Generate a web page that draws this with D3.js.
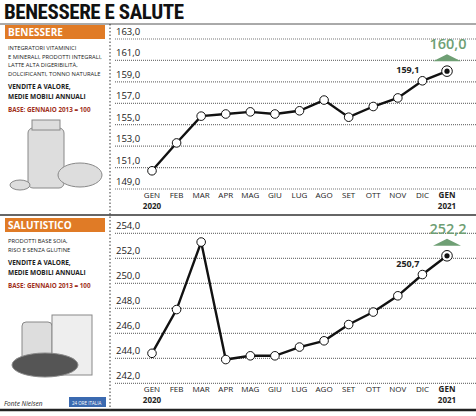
<!DOCTYPE html>
<html><head><meta charset="utf-8">
<script src="https://cdn.jsdelivr.net/npm/d3@7"></script>
<style>body{margin:0;background:#fff}svg{display:block}</style></head>
<body><svg id="c" width="476" height="416"></svg>
<script>
const months = ["GEN","FEB","MAR","APR","MAG","GIU","LUG","AGO","SET","OTT","NOV","DIC","GEN"];
const years = ["2020","","","","","","","","","","","","2021"];
const benessere = [150.7,153.3,155.8,156.0,156.2,156.0,156.3,157.3,155.7,156.7,157.5,159.1,160.0];
const salutistico = [244.4,247.9,253.3,243.9,244.2,244.2,244.9,245.4,246.7,247.7,249.0,250.7,252.2];
const ticksTop = [149,151,153,155,157,159,161,163];
const ticksBot = [242,244,246,248,250,252,254];
const fmt = v => d3.format(".1f")(v).replace(".", ",");

const svg = d3.select("#c");
const F = "'Open Sans', sans-serif";
svg.append("text").attr("x",4).attr("y",19).attr("font-family","'Roboto Condensed','Liberation Sans Narrow',Roboto,sans-serif")
  .attr("font-weight","bold").attr("font-size",21).attr("textLength",180).attr("fill","#111").text("BENESSERE E SALUTE");
svg.append("line").attr("x1",0).attr("x2",476).attr("y1",24).attr("y2",24).attr("stroke","#555").attr("stroke-width",1);
svg.append("line").attr("x1",0).attr("x2",476).attr("y1",215).attr("y2",215).attr("stroke","#333").attr("stroke-width",1.5);
svg.append("line").attr("x1",0).attr("x2",476).attr("y1",410).attr("y2",410).attr("stroke","#222").attr("stroke-width",2.5);
svg.append("line").attr("x1",110).attr("x2",110).attr("y1",24).attr("y2",410).attr("stroke","#333").attr("stroke-dasharray","1.5,2");

function side(y0, title, lines){
  svg.append("rect").attr("x",5).attr("y",y0).attr("width",100).attr("height",14).attr("fill","#e07b26");
  svg.append("text").attr("x",8).attr("y",y0+11).attr("font-family",F).attr("font-weight","bold").attr("font-size",10).attr("fill","#fff").text(title);
  let y=y0+25;
  lines.forEach(l=>{svg.append("text").attr("x",8).attr("y",y).attr("font-family",F).attr("font-size",5.8).attr("fill","#222").text(l);y+=8.5;});
  y+=5;
  ["VENDITE A VALORE,","MEDIE MOBILI ANNUALI"].forEach(l=>{svg.append("text").attr("x",8).attr("y",y).attr("font-family",F).attr("font-weight","bold").attr("font-size",6.5).attr("fill","#222").text(l);y+=10;});
  y+=3;
  svg.append("text").attr("x",8).attr("y",y).attr("font-family",F).attr("font-weight","bold").attr("font-size",6.3).attr("fill","#a03020").text("BASE: GENNAIO 2013 = 100");
}
side(25,"BENESSERE",["INTEGRATORI VITAMINICI","E MINERALI, PRODOTTI INTEGRALI,","LATTE ALTA DIGERIBILITÀ,","DOLCIFICANTI, TONNO NATURALE"]);
side(218,"SALUTISTICO",["PRODOTTI BASE SOIA,","RISO E SENZA GLUTINE"]);

const ill = svg.append("g").attr("fill","#ddd").attr("stroke","#888").attr("stroke-width",1);
ill.append("rect").attr("x",28).attr("y",128).attr("width",36).attr("height",60).attr("rx",5);
ill.append("rect").attr("x",32).attr("y",120).attr("width",28).attr("height",10);
ill.append("ellipse").attr("cx",80).attr("cy",175).attr("rx",22).attr("ry",12);
ill.append("ellipse").attr("cx",20).attr("cy",185).attr("rx",10).attr("ry",5);
ill.append("rect").attr("x",22).attr("y",322).attr("width",30).attr("height",40).attr("rx",4);
ill.append("rect").attr("x",52).attr("y",315).attr("width",40).attr("height",60).attr("fill","#eee");
ill.append("ellipse").attr("cx",45).attr("cy",365).attr("rx",33).attr("ry",12).attr("fill","#555");
svg.append("text").attr("x",4).attr("y",406).attr("font-family",F).attr("font-style","italic").attr("font-size",6.5).attr("fill","#222").text("Fonte Nielsen");
svg.append("rect").attr("x",69).attr("y",397).attr("width",37).attr("height",10).attr("fill","#3b6ab0");
svg.append("text").attr("x",72).attr("y",404.5).attr("font-family",F).attr("font-size",4.5).attr("fill","#fff").text("24 ORE ITALIA");

const x = d3.scalePoint().domain(d3.range(13)).range([152,447]);

function panel(data, ticks, yTop, yBot, labelY){
  const y = d3.scaleLinear().domain([ticks[0], ticks[ticks.length-1]]).range([yBot,yTop]);
  const g = svg.append("g");
  ticks.forEach(t=>{
    g.append("line").attr("x1",115).attr("x2",476).attr("y1",y(t)).attr("y2",y(t)).attr("stroke","#777").attr("stroke-dasharray","1,1").attr("stroke-width",1.2);
    g.append("text").attr("x",116).attr("y",y(t)-4).attr("font-family",F).attr("font-size",9.5).attr("fill","#222").text(fmt(t));
  });
  const line = d3.line().x((d,i)=>x(i)).y(d=>y(d));
  g.append("path").attr("d",line(data)).attr("fill","none").attr("stroke","#111").attr("stroke-width",2.4);
  data.forEach((d,i)=>{
    if(i<12) g.append("circle").attr("cx",x(i)).attr("cy",y(d)).attr("r",4.3).attr("fill","#fff").attr("stroke","#111").attr("stroke-width",1);
  });
  const last=data[12];
  g.append("circle").attr("cx",x(12)).attr("cy",y(last)).attr("r",5.3).attr("fill","#fff").attr("stroke","#111").attr("stroke-width",1);
  g.append("circle").attr("cx",x(12)).attr("cy",y(last)).attr("r",2.6).attr("fill","#111");
  g.append("text").attr("x",x(11)-3).attr("y",y(data[11])-8).attr("text-anchor","end").attr("font-family",F).attr("font-weight","bold").attr("font-size",9).attr("fill","#222").text(fmt(data[11]));
  g.append("text").attr("x",x(12)+1).attr("y",y(last)-22).attr("text-anchor","middle").attr("font-family",F).attr("font-weight","600").attr("font-size",14.5).attr("fill","#6f9f74").text(fmt(last));
  g.append("path").attr("d",`M${x(12)-14},${y(last)-10}L${x(12)},${y(last)-17}L${x(12)+14},${y(last)-10}Z`).attr("fill","#6f9f74");
  months.forEach((m,i)=>{
    const bold = i===12;
    g.append("text").attr("x",x(i)).attr("y",labelY).attr("text-anchor","middle").attr("font-family",F).attr("font-weight",bold?"bold":"normal").attr("font-size",8).attr("fill","#222").text(m);
    if(years[i]) g.append("text").attr("x",x(i)).attr("y",labelY+11).attr("text-anchor","middle").attr("font-family",F).attr("font-weight","bold").attr("font-size",8).attr("fill","#222").text(years[i]);
  });
}
panel(benessere, ticksTop, 39, 189, 198);
panel(salutistico, ticksBot, 233.3, 383.3, 392);
</script></body></html>
